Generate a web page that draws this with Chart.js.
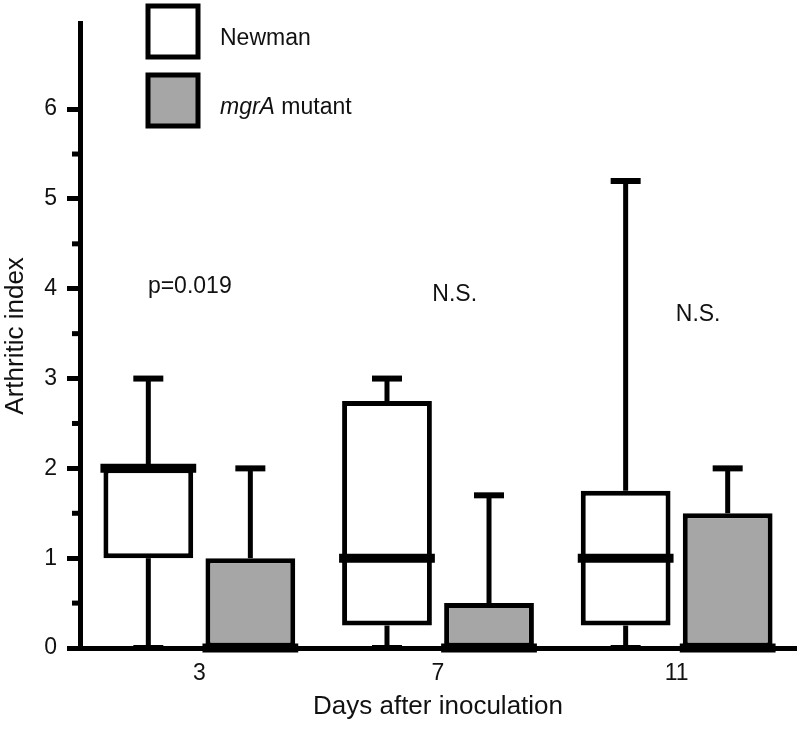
<!DOCTYPE html>
<html>
<head>
<meta charset="utf-8">
<script src="https://cdn.jsdelivr.net/npm/chart.js@4.4.1/dist/chart.umd.min.js"></script>
<style>
  body { margin: 0; background: #fff; }
</style>
</head>
<body>
<canvas id="boxChart" width="800" height="730"></canvas>
<script>
const days = ['3', '7', '11'];

// Newman (wild type)
const newmanMin = [0, 0, 0];
const newmanQ1 = [1, 0.25, 0.25];
const newmanMedian = [2, 1, 1];
const newmanQ3 = [2, 2.75, 1.75];
const newmanMax = [3, 3, 5.2];

// mgrA mutant
const mutantMin = [0, 0, 0];
const mutantQ1 = [0, 0, 0];
const mutantMedian = [0, 0, 0];
const mutantQ3 = [1, 0.5, 1.5];
const mutantMax = [2, 1.7, 2];

const minorTicks = [0.5, 1.5, 2.5, 3.5, 4.5, 5.5];
const pTexts = ['p=0.019', 'N.S.', 'N.S.'];
const pValuesY = [4.02, 3.93, 3.71];

const FONT = "'Liberation Sans', Arial, Helvetica, sans-serif";
const INK = '#111';

const boxPlot = {
    id: 'boxPlot',
    beforeDatasetsDraw(chart) {
        // whiskers + caps, behind the boxes
        const ctx = chart.ctx;
        const y = chart.scales.y;
        ctx.save();
        ctx.strokeStyle = '#000';
        chart.data.datasets.forEach((ds, i) => {
            chart.getDatasetMeta(i).data.forEach((bar, j) => {
                const st = ds.stats;
                const x = bar.x;
                const segs = [[st.q3[j], st.max[j]], [st.q1[j], st.min[j]]];
                segs.forEach(([from, to]) => {
                    if (from === to) return;
                    ctx.lineWidth = 5;
                    ctx.beginPath();
                    ctx.moveTo(x, y.getPixelForValue(from));
                    ctx.lineTo(x, y.getPixelForValue(to));
                    ctx.stroke();
                    ctx.lineWidth = 6;
                    ctx.beginPath();
                    ctx.moveTo(x - 15, y.getPixelForValue(to));
                    ctx.lineTo(x + 15, y.getPixelForValue(to));
                    ctx.stroke();
                });
            });
        });
        ctx.restore();
    },
    afterDatasetsDraw(chart) {
        // medians
        const ctx = chart.ctx;
        const y = chart.scales.y;
        ctx.save();
        ctx.strokeStyle = '#000';
        ctx.lineWidth = 9;
        chart.data.datasets.forEach((ds, i) => {
            chart.getDatasetMeta(i).data.forEach((bar, j) => {
                const py = y.getPixelForValue(ds.stats.median[j]);
                ctx.beginPath();
                ctx.moveTo(bar.x - bar.width / 2 - 3, py);
                ctx.lineTo(bar.x + bar.width / 2 + 3, py);
                ctx.stroke();
            });
        });
        ctx.restore();
    },
    afterDraw(chart) {
        const ctx = chart.ctx;
        const x = chart.scales.x;
        const y = chart.scales.y;
        const left = chart.chartArea.left;
        ctx.save();

        // minor ticks on the y axis
        ctx.strokeStyle = '#000';
        ctx.lineWidth = 5;
        minorTicks.forEach(v => {
            const py = y.getPixelForValue(v);
            ctx.beginPath();
            ctx.moveTo(left - 8, py);
            ctx.lineTo(left, py);
            ctx.stroke();
        });

        // significance labels
        const shifts = [-0.04, 0.07, 0.09];
        ctx.fillStyle = INK;
        ctx.font = '23px ' + FONT;
        ctx.textAlign = 'center';
        ctx.textBaseline = 'middle';
        pTexts.forEach((t, i) => {
            ctx.fillText(t, x.getPixelForValue(i + shifts[i]), y.getPixelForValue(pValuesY[i]));
        });

        // legend
        const parts = [[['Newman', false]], [['mgrA', true], [' mutant', false]]];
        chart.data.datasets.forEach((ds, i) => {
            const top = 6 + i * 69;
            ctx.fillStyle = ds.backgroundColor;
            ctx.fillRect(148, top, 50, 51);
            ctx.strokeStyle = '#000';
            ctx.lineWidth = 5;
            ctx.strokeRect(148, top, 50, 51);
            let tx = 220;
            ctx.textAlign = 'left';
            ctx.fillStyle = INK;
            parts[i].forEach(([t, it]) => {
                ctx.font = (it ? 'italic ' : '') + '23px ' + FONT;
                ctx.fillText(t, tx, top + 33);
                tx += ctx.measureText(t).width;
            });
        });
        ctx.restore();
    }
};

new Chart(document.getElementById('boxChart').getContext('2d'), {
    type: 'bar',
    data: {
        labels: days,
        datasets: [{
            label: 'Newman',
            data: newmanQ1.map((q, i) => [q, newmanQ3[i]]),
            stats: { min: newmanMin, q1: newmanQ1, median: newmanMedian, q3: newmanQ3, max: newmanMax },
            backgroundColor: '#ffffff',
            borderColor: '#000',
            borderWidth: 5,
            borderSkipped: false
        }, {
            label: 'mgrA mutant',
            data: mutantQ1.map((q, i) => [q, mutantQ3[i]]),
            stats: { min: mutantMin, q1: mutantQ1, median: mutantMedian, q3: mutantQ3, max: mutantMax },
            backgroundColor: '#a6a6a6',
            borderColor: '#000',
            borderWidth: 5,
            borderSkipped: false
        }]
    },
    options: {
        responsive: false,
        animation: false,
        categoryPercentage: 0.855,
        barPercentage: 0.88,
        layout: { padding: { top: 20, right: 4, left: 0, bottom: 0 } },
        plugins: {
            legend: { display: false },
            tooltip: { enabled: false }
        },
        scales: {
            x: {
                grid: { display: false, drawTicks: false },
                border: { display: true, width: 5, color: '#000' },
                ticks: { color: INK, padding: 12, font: { family: FONT, size: 23 } },
                title: {
                    display: true,
                    text: 'Days after inoculation',
                    color: INK,
                    font: { family: FONT, size: 26 },
                    padding: { top: 0, bottom: 8 }
                },
                afterFit: s => { s.height = 82; }
            },
            y: {
                min: 0,
                max: 6.95,
                grid: { drawOnChartArea: false, drawTicks: true, tickLength: 13, tickWidth: 5, tickColor: '#000' },
                border: { display: true, width: 5, color: '#000' },
                ticks: { stepSize: 1, includeBounds: false, color: INK, padding: 10, font: { family: FONT, size: 23 } },
                title: {
                    display: true,
                    text: 'Arthritic index',
                    color: INK,
                    font: { family: FONT, size: 26 },
                    padding: { top: 0, bottom: 0 }
                },
                afterFit: s => { s.width = 80; }
            }
        }
    },
    plugins: [boxPlot]
});
</script>
</body>
</html>
